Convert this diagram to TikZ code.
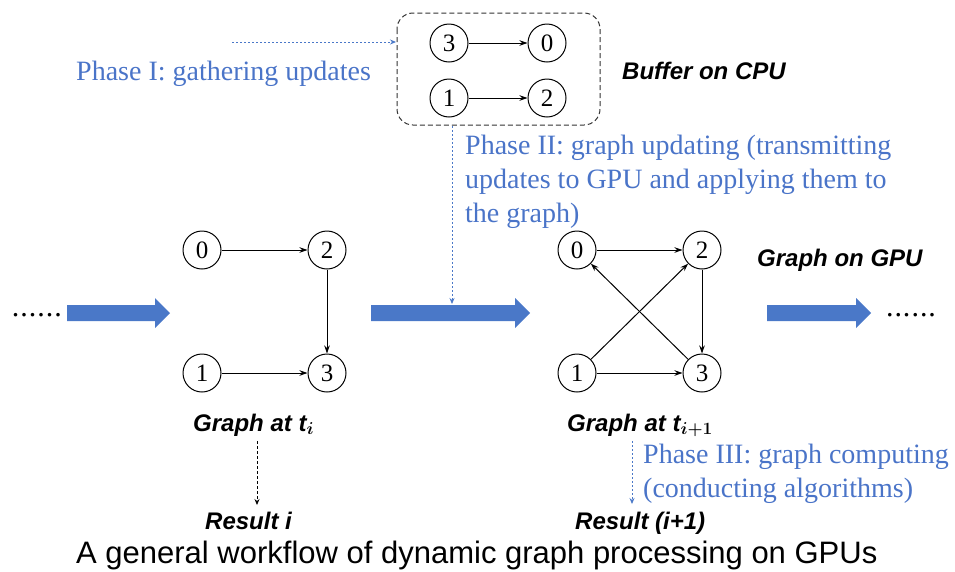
\documentclass[tikz,border=0pt]{standalone}
\usepackage{fontspec}
\usepackage{bm}
\setmainfont{Liberation Serif}
\setsansfont{Liberation Sans}
\usetikzlibrary{arrows.meta}
\definecolor{pblue}{HTML}{4A78C8}
\definecolor{tblue}{HTML}{4A74C8}
\tikzset{
  vtx/.style={circle,draw,line width=1pt,minimum size=38pt,inner sep=0pt,font=\fontsize{25}{25}\selectfont},
  edge/.style={line width=1pt,-{Stealth[length=8pt,width=5.5pt]}},
  phase/.style={text=tblue,font=\fontsize{28}{34}\selectfont,anchor=base west,inner sep=0pt},
  lab/.style={font=\sffamily\bfseries\itshape\fontsize{24}{28}\selectfont,anchor=base west,inner sep=0pt},
  dots/.style={font=\fontsize{30}{30}\selectfont,inner sep=0pt,anchor=base},
  bigarrow/.style={fill=pblue},
  bluedot/.style={pblue,line width=0.8pt,dash pattern=on 2pt off 2pt,-{Stealth[length=6pt,width=5pt]}},
  blackdash/.style={black,line width=0.8pt,dash pattern=on 3pt off 2pt,-{Stealth[length=6pt,width=5pt]}},
}
\newcommand\sixdots{.\kern1pt.\kern1pt.\kern1pt.\kern1pt.\kern1pt.}
\begin{document}
\begin{tikzpicture}[x=1pt,y=-1pt]
\useasboundingbox (0,0) rectangle (955,571);
% buffer
\draw[line width=1pt,dash pattern=on 5pt off 3pt,rounded corners=16pt,black!80] (397,13) rectangle (600,125);
\node[vtx] (b3) at (449,43) {3};
\node[vtx] (b0) at (547,43) {0};
\node[vtx] (b1) at (449,98) {1};
\node[vtx] (b2) at (547,98) {2};
\draw[edge] (b3) -- (b0);
\draw[edge] (b1) -- (b2);
\node[lab] (buf) at (622,79) {Buffer on CPU};
% phase I
\coordinate (p1s) at (232,42);
\coordinate (p1e) at (396,42);
\draw[bluedot] (p1s) -- (p1e);
\node[phase] (ph1) at (76,80) {Phase I: gathering updates};
% phase II
\coordinate (p2s) at (452,126);
\coordinate (p2e) at (452,304);
\draw[bluedot] (p2s) -- (p2e);
\node[phase] (ph2a) at (465,154) {Phase II: graph updating (transmitting};
\node[phase] (ph2b) at (465,188) {updates to GPU and applying them to};
\node[phase] (ph2c) at (465,222) {the graph)};
% left graph
\node[vtx] (l0) at (202,250) {0};
\node[vtx] (l2) at (327,250) {2};
\node[vtx] (l1) at (202,373) {1};
\node[vtx] (l3) at (327,373) {3};
\draw[edge] (l0) -- (l2);
\draw[edge] (l2) -- (l3);
\draw[edge] (l1) -- (l3);
% right graph
\node[vtx] (r0) at (577,250) {0};
\node[vtx] (r2) at (702,250) {2};
\node[vtx] (r1) at (577,373) {1};
\node[vtx] (r3) at (702,373) {3};
\draw[edge] (r0) -- (r2);
\draw[edge] (r2) -- (r3);
\draw[edge] (r1) -- (r3);
\draw[edge] (r1) -- (r2);
\draw[edge] (r3) -- (r0);
% big arrows
\fill[bigarrow] (67,305) -- (155,305) -- (155,298) -- (170,313) -- (155,328) -- (155,321) -- (67,321) -- cycle;
\fill[bigarrow] (371,305) -- (515,305) -- (515,298) -- (530,313) -- (515,328) -- (515,321) -- (371,321) -- cycle;
\fill[bigarrow] (767,305) -- (856,305) -- (856,298) -- (871,313) -- (856,328) -- (856,321) -- (767,321) -- cycle;
\node[dots] (dl) at (37,316) {\sixdots};
\node[dots] (dr) at (911,316) {\sixdots};
% labels
\node[lab] (gti) at (193,431) {Graph at t${}_{\bm{i}}$};
\node[lab] (gti1) at (567,431) {Graph at t${}_{\bm{i+1}}$};
\node[lab] (gpu) at (757,266) {Graph on GPU};
\node[lab] (res1) at (205,529) {Result i};
\node[lab] (res2) at (575,529) {Result (i+1)};
\coordinate (a1s) at (257,441);
\coordinate (a1e) at (257,505);
\draw[blackdash] (a1s) -- (a1e);
\coordinate (a2s) at (632,441);
\coordinate (a2e) at (632,504);
\draw[bluedot] (a2s) -- (a2e);
\node[phase] (ph3a) at (643,463) {Phase III: graph computing};
\node[phase] (ph3b) at (643,497) {(conducting algorithms)};
% caption
\node[anchor=base west,inner sep=0pt,font=\sffamily\fontsize{31}{31}\selectfont] (cap) at (76,563) {A general workflow of dynamic graph processing on GPUs};
\end{tikzpicture}
\end{document}
